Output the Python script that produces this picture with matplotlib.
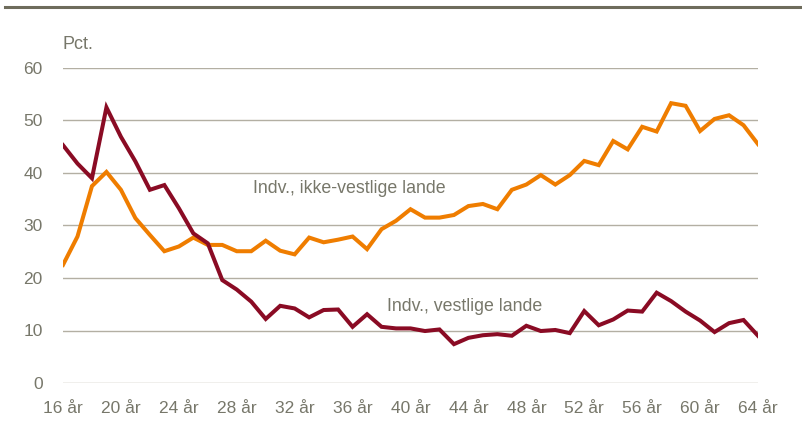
import matplotlib
matplotlib.use("Agg")
import matplotlib.pyplot as plt
from matplotlib.lines import Line2D

ages = list(range(16, 65))
ikke_vestlige = [22.5, 27.9, 37.5, 40.2, 36.8, 31.4, 28.2, 25.1, 26.0, 27.7,
                 26.3, 26.3, 25.1, 25.1, 27.1, 25.2, 24.5, 27.7, 26.8, 27.3,
                 27.9, 25.5, 29.3, 30.9, 33.1, 31.5, 31.5, 32.0, 33.7, 34.1,
                 33.1, 36.8, 37.8, 39.6, 37.8, 39.6, 42.3, 41.5, 46.1, 44.5,
                 48.8, 47.9, 53.3, 52.8, 48.0, 50.3, 51.0, 49.1, 45.5]
vestlige = [45.3, 41.8, 39.0, 52.5, 46.9, 42.2, 36.8, 37.7, 33.3, 28.5,
            26.6, 19.6, 17.8, 15.5, 12.2, 14.7, 14.2, 12.5, 13.9, 14.0,
            10.7, 13.1, 10.7, 10.4, 10.4, 9.9, 10.2, 7.4, 8.6, 9.1,
            9.3, 9.0, 10.9, 9.9, 10.1, 9.5, 13.7, 11.0, 12.1, 13.8,
            13.6, 17.2, 15.6, 13.6, 11.9, 9.7, 11.4, 12.0, 9.0]
xticks = list(range(16, 65, 4))
xtick_labels = [f"{a} år" for a in xticks]
yticks = [0, 10, 20, 30, 40, 50, 60]

plt.rcParams['font.family'] = ['Liberation Sans', 'DejaVu Sans']
txt = '#77776a'
grid_c = '#b3afa3'

fig = plt.figure(figsize=(8.03, 4.28), dpi=100)
ax = fig.add_axes([63/803, 1-383/428, (758-63)/803, (383-68)/428])

for y in yticks:
    ax.axhline(y, color=grid_c, lw=1.0, zorder=1)

ax.plot(ages, ikke_vestlige, color='#ef7d00', lw=2.9, solid_joinstyle='miter', zorder=3)
ax.plot(ages, vestlige, color='#8a0b24', lw=2.9, solid_joinstyle='miter', zorder=3)

ax.set_xlim(16, 64)
ax.set_ylim(0, 60)
ax.set_xticks(xticks)
ax.set_xticklabels(xtick_labels)
ax.set_yticks(yticks)
for s in ax.spines.values():
    s.set_visible(False)
ax.tick_params(axis='both', length=0, labelsize=12.5, colors=txt)
ax.tick_params(axis='y', pad=14.5)
ax.tick_params(axis='x', pad=13)

ax.text(16, 64.5, 'Pct.', fontsize=13, color=txt, ha='left', va='center')
ax.text(29.1, 37.1, 'Indv., ikke-vestlige lande', fontsize=12.8, color=txt, ha='left', va='center')
ax.text(38.4, 14.5, 'Indv., vestlige lande', fontsize=12.8, color=txt, ha='left', va='center')

fig.add_artist(Line2D([5/803, 800/803], [1-7/428, 1-7/428], color='#6e6c5c', lw=2.2,
                      transform=fig.transFigure))

fig.savefig('out.png', dpi=100)
